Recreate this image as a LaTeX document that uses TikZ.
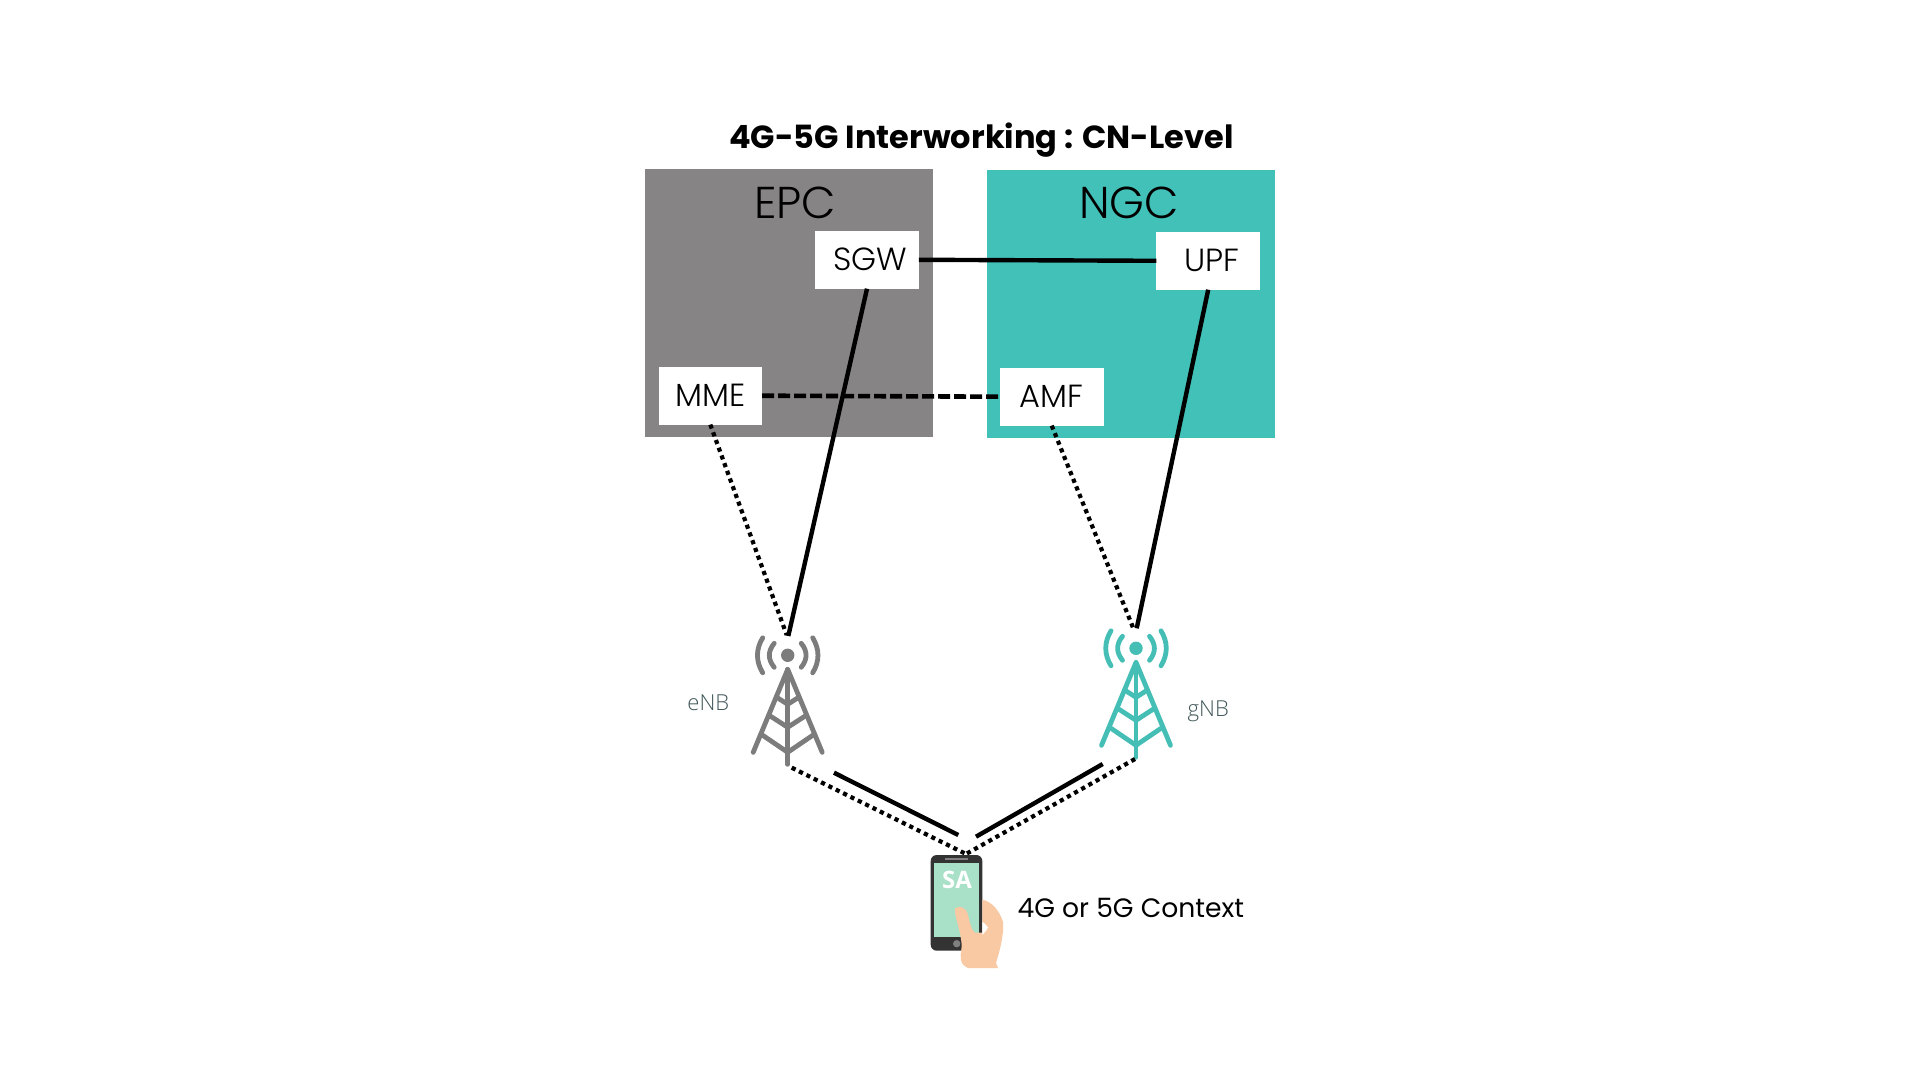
\documentclass[tikz,border=0pt]{standalone}
\usepackage{fontspec}
\setmainfont{Poppins}
\newfontfamily\lightfont{Poppins Light}
\newfontfamily\bsfont{Open Sans Light}
\newfontfamily\safont{Open Sans}
\definecolor{epcgray}{HTML}{868484}
\definecolor{ngcteal}{HTML}{41C1B8}
\definecolor{towergray}{HTML}{7C7C7C}
\definecolor{towerteal}{HTML}{45BFB5}
\definecolor{phonedark}{HTML}{333333}
\definecolor{phonescreen}{HTML}{A8E0C8}
\definecolor{skin}{HTML}{F9C9A3}
\definecolor{lbl}{HTML}{3F5557}
\tikzset{
  x=0.5pt,y=-0.5pt,
  nfbox/.style={fill=white,inner sep=0pt,outer sep=0pt,minimum width=51.8pt,minimum height=28.9pt,text height=11.2pt,text depth=0pt,font=\lightfont\fontsize{16pt}{17pt}\selectfont},
  nudged/.style={execute at begin node=\hspace*{3.5pt}},
  solidlink/.style={line width=2.2pt,black},
  dashlink/.style={line width=2.3pt,black,dash pattern=on 6pt off 2pt},
  dotlink/.style={line width=2.1pt,black,dash pattern=on 2.1pt off 2pt},
  towerline/.style={line width=2.4pt,line cap=round,line join=round},
  tower/.pic={
    \fill[pic actions] (0,0) circle[radius=6.7];
    \draw[towerline,pic actions] (-34.5,97) -- (0,14) -- (34.5,97);
    \draw[towerline,pic actions] (0,14) -- (0,109);
    \draw[towerline,pic actions] (-11,42) -- (0,49) -- (11,42);
    \draw[towerline,pic actions] (-17,61) -- (0,72) -- (17,61);
    \draw[towerline,pic actions] (-25,80) -- (0,97) -- (25,80);
    \draw[towerline,pic actions] (-13.5,-12) .. controls (-20,-4) and (-20,4) .. (-13.5,12);
    \draw[towerline,pic actions] (13.5,-12) .. controls (20,-4) and (20,4) .. (13.5,12);
    \draw[towerline,pic actions] (-25,-17.5) .. controls (-32,-6) and (-32,6) .. (-25,17.5);
    \draw[towerline,pic actions] (25,-17.5) .. controls (32,-6) and (32,6) .. (25,17.5);
  }
}
\begin{document}
\begin{tikzpicture}
\useasboundingbox (0,0) rectangle (1920,1080);
\fill[white] (0,0) rectangle (1920,1080);
% core boxes
\fill[epcgray] (645,169) rectangle (933,436.7);
\fill[ngcteal] (986.8,170) rectangle (1274.7,438);
\node[anchor=base,font=\fontsize{16pt}{18pt}\selectfont\bfseries] (title) at (981.4,149) {4G-5G Interworking : CN-Level};
\node[anchor=base,font=\lightfont\fontsize{22.3pt}{24pt}\selectfont] (epc) at (795,219) {EPC};
\node[anchor=base,font=\lightfont\fontsize{22.3pt}{24pt}\selectfont] (ngc) at (1129,219) {NGC};
\node[nfbox,nudged] (sgw) at (867,259.8) {SGW};
\node[nfbox,nudged] (upf) at (1208.2,260.8) {UPF};
\node[nfbox] (mme) at (710.3,395.7) {MME};
\node[nfbox] (amf) at (1051.7,396.7) {AMF};
% towers
\pic[towergray] at (787.7,655.3) {tower};
\pic[towerteal] at (1136,648.3) {tower};
\coordinate (enbS) at (788.3,636);
\coordinate (enbD) at (786.7,635);
\coordinate (gnbS) at (1136.7,628.3);
\coordinate (gnbD) at (1134,630);
\coordinate (enbB) at (791.7,767.7);
\coordinate (gnbB) at (1135,759);
\coordinate (ue) at (966,854);
\coordinate (es1) at (834,772.7);
\coordinate (es2) at (958.3,835);
\coordinate (gs1) at (1102.7,764);
\coordinate (gs2) at (976,836.7);
% links
\draw[solidlink] (sgw.east) -- (upf.west);
\draw[dashlink] (mme.east) -- (amf.west);
\draw[solidlink] (sgw.south) -- (enbS);
\draw[solidlink] (upf.south) -- (gnbS);
\draw[dotlink] (mme.south) -- (enbD);
\draw[dotlink] (amf.south) -- (gnbD);
\draw[dotlink] (enbB) -- (ue);
\draw[dotlink] (gnbB) -- (ue);
\draw[solidlink] (es1) -- (es2);
\draw[solidlink] (gs1) -- (gs2);
% phone
\fill[phonedark,rounded corners=3pt] (930.7,855) rectangle (982.3,950.7);
\fill[phonescreen] (934.3,862.7) rectangle (979.3,937.3);
\fill[gray] (945,857.5) rectangle (968,860);
\fill[gray] (956.7,943.7) circle[radius=3.7];
\node[text=white,anchor=base,font=\safont\bfseries\fontsize{12pt}{13pt}\selectfont] (sa) at (957,888.5) {SA};
\fill[skin] (955,908.5) .. controls (958,905.5) and (966,906) .. (968,915)
  .. controls (970,924) and (972,931) .. (975,932.7) -- (982.3,932.7) -- (982.3,899.5)
  .. controls (992,902) and (999,910) .. (1003,921.7) .. controls (1004,935) and (1000,950) .. (996,963)
  -- (998,968) -- (968,968) .. controls (963,966) and (960,962) .. (960.7,955)
  -- (961.7,946) .. controls (961,930) and (954,916) .. (955,908.5) -- cycle;
\fill[white] (982.3,921.7) .. controls (985,924) and (987,925.5) .. (988,927.5) .. controls (987,930) and (984,933) .. (982.3,935) -- cycle;
% labels
\node[anchor=base,font=\fontsize{13.3pt}{14pt}\selectfont] (ctx) at (1130.8,917) {4G or 5G Context};
\node[anchor=base,text=lbl,font=\bsfont\fontsize{11pt}{12pt}\selectfont] (enb) at (708.3,710) {eNB};
\node[anchor=base,text=lbl,font=\bsfont\fontsize{11pt}{12pt}\selectfont] (gnb) at (1208.3,716.7) {gNB};
\end{tikzpicture}
\end{document}
